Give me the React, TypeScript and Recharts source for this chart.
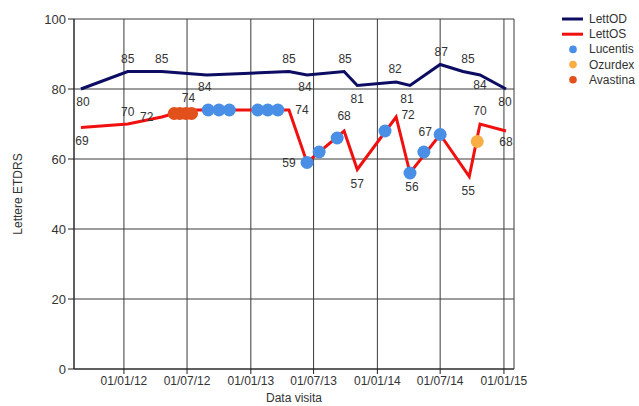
import React from 'react';
import { ComposedChart, Line, Scatter, XAxis, YAxis, CartesianGrid, LabelList, Label } from 'recharts';

const odDates = ['2011-08-30','2012-01-12','2012-04-19','2012-08-27','2013-04-21','2013-06-12','2013-09-27','2013-11-04','2014-02-24','2014-04-05','2014-07-01','2014-09-05','2014-10-24','2015-01-07'];
const odValues = [80,85,85,84,85,84,85,81,82,81,87,85,84,80];

const osDates = ['2011-08-30','2012-01-12','2012-04-19','2012-05-25','2012-07-14','2013-04-21','2013-06-12','2013-09-27','2013-11-04','2014-02-24','2014-04-05','2014-07-01','2014-09-23','2014-10-24','2015-01-07'];
const osValues = [69,70,72,73,74,74,59,68,57,72,56,67,55,70,68];

const lucentisDates = ['2012-08-31','2012-10-01','2012-10-31','2013-01-21','2013-02-19','2013-03-20','2013-06-12','2013-07-17','2013-09-07','2014-01-23','2014-04-05','2014-05-15','2014-07-01'];
const lucentisValues = [74,74,74,74,74,74,59,62,66,68,56,62,67];

const ozurdexDates = ['2014-10-16'];
const ozurdexValues = [65];

const avastinaDates = ['2012-05-25','2012-06-10','2012-06-28','2012-07-14'];
const avastinaValues = [73,73,73,73];

const xTickDates = ['2012-01-01','2012-07-01','2013-01-01','2013-07-01','2014-01-01','2014-07-01','2015-01-01'];
const yTicks = [0,20,40,60,80,100];
const xDomainDates = ['2011-08-10','2015-01-30'];

const toTs = (s: string) => {
  const [y, m, d] = s.split('-').map(Number);
  return Date.UTC(y, m - 1, d);
};
const zip = (dates: string[], vals: number[]) => dates.map((d, i) => ({ x: toTs(d), y: vals[i] }));

const odData = zip(odDates, odValues);
const osData = zip(osDates, osValues);
const lucData = zip(lucentisDates, lucentisValues);
const ozuData = zip(ozurdexDates, ozurdexValues);
const avaData = zip(avastinaDates, avastinaValues);

const fmt = (t: number) => {
  const d = new Date(t);
  const p = (n: number) => String(n).padStart(2, '0');
  return `${p(d.getUTCDate())}/${p(d.getUTCMonth() + 1)}/${p(d.getUTCFullYear() % 100)}`;
};

const C_OD = '#0c0c62';
const C_OS = '#f01010';
const C_LUC = '#4a8fe6';
const C_OZU = '#f6ae45';
const C_AVA = '#e2501c';
const FONT = 'Arial, "Liberation Sans", sans-serif';

const odOffsets: ([number, number] | null)[] = [[2,13],[0,-13],[0,-13],[-2,12],[0,-13],[-2,12],[1,-13],[0,13],[-1,-13],[-3,13],[1,-13],[5,-13],[0,10],[-1,13]];
const osOffsets: ([number, number] | null)[] = [[1,13],[0,-12],[-15,0],null,[-3,-12],[13,0],[-18,0],[0,-15],[0,14],[12,-2],[2,14],[-15,-3],[-1,14],[0,-13],[0,11]];

const makeLabel = (offsets: ([number, number] | null)[]) => (props: any) => {
  const { x, y, value, index } = props;
  const off = offsets[index];
  if (!off || x == null || y == null) return null;
  return (
    <text x={x + off[0]} y={y + off[1]} textAnchor="middle" dominantBaseline="central" fontSize={12} fontFamily={FONT} fill="#333">
      {value}
    </text>
  );
};

const dotShape = (color: string) => (props: any) => {
  const { cx, cy } = props;
  if (cx == null || cy == null) return null;
  return <circle cx={cx} cy={cy} r={6.5} fill={color} />;
};

const legendItems = [
  { name: 'LettOD', type: 'line', color: C_OD },
  { name: 'LettOS', type: 'line', color: C_OS },
  { name: 'Lucentis', type: 'dot', color: C_LUC },
  { name: 'Ozurdex', type: 'dot', color: C_OZU },
  { name: 'Avastina', type: 'dot', color: C_AVA },
];

export default function App() {
  return (
    <div style={{ position: 'absolute', left: 0, top: 0, width: 639, height: 406, background: '#fff' }}>
      <ComposedChart width={639} height={406} margin={{ top: 19, right: 125, left: 0, bottom: 0 }}>
        <CartesianGrid stroke="#3a3a3a" strokeWidth={1} />
        <XAxis
          type="number"
          dataKey="x"
          domain={[toTs(xDomainDates[0]), toTs(xDomainDates[1])]}
          allowDataOverflow
          ticks={xTickDates.map(toTs)}
          tickFormatter={fmt}
          height={37}
          stroke="#222"
          tickSize={5}
          tick={{ fontSize: 12, fontFamily: FONT, fill: '#333' }}
        >
          <Label
            content={() => (
              <text x={294} y={398} textAnchor="middle" dominantBaseline="central" fontSize={12} fontFamily={FONT} fill="#333">
                Data visita
              </text>
            )}
          />
        </XAxis>
        <YAxis
          type="number"
          domain={[0, 100]}
          ticks={yTicks}
          width={74}
          stroke="#222"
          tickSize={6}
          tick={{ fontSize: 13, fontFamily: FONT, fill: '#333' }}
        >
          <Label
            content={() => (
              <text x={18} y={194} transform="rotate(-90, 18, 194)" textAnchor="middle" dominantBaseline="central" fontSize={12} fontFamily={FONT} fill="#333">
                Lettere ETDRS
              </text>
            )}
          />
        </YAxis>
        <Line data={odData} dataKey="y" type="linear" stroke={C_OD} strokeWidth={3} dot={false} isAnimationActive={false}>
          <LabelList dataKey="y" content={makeLabel(odOffsets)} />
        </Line>
        <Line data={osData} dataKey="y" type="linear" stroke={C_OS} strokeWidth={3} dot={false} isAnimationActive={false}>
          <LabelList dataKey="y" content={makeLabel(osOffsets)} />
        </Line>
        <Scatter data={avaData} dataKey="y" fill={C_AVA} shape={dotShape(C_AVA)} isAnimationActive={false} />
        <Scatter data={lucData} dataKey="y" fill={C_LUC} shape={dotShape(C_LUC)} isAnimationActive={false} />
        <Scatter data={ozuData} dataKey="y" fill={C_OZU} shape={dotShape(C_OZU)} isAnimationActive={false} />
      </ComposedChart>
      <svg width={84} height={90} style={{ position: 'absolute', left: 555, top: 5 }}>
        {legendItems.map((it, i) => {
          const cy = 14 + i * 15.2;
          return (
            <g key={it.name}>
              {it.type === 'line' ? (
                <line x1={7} x2={28} y1={cy} y2={cy} stroke={it.color} strokeWidth={3} />
              ) : (
                <circle cx={18} cy={cy} r={3.8} fill={it.color} />
              )}
              <text x={34} y={cy} dominantBaseline="central" fontSize={12} fontFamily={FONT} fill="#333">
                {it.name}
              </text>
            </g>
          );
        })}
      </svg>
    </div>
  );
}
